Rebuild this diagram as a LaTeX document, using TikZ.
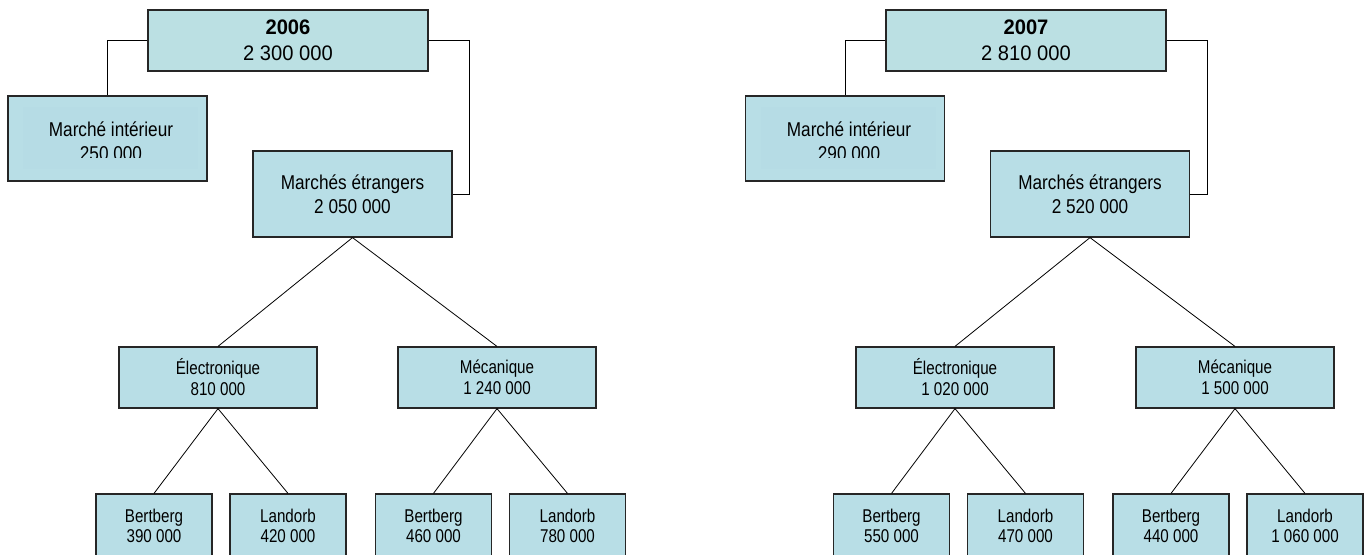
\documentclass[tikz,border=0pt]{standalone}
\usepackage{fontspec}
\setmainfont{Liberation Sans}
\newfontfamily\topf{Liberation Sans}[FakeStretch=0.96]
\newfontfamily\midf{Liberation Sans}[FakeStretch=0.86]
\newfontfamily\lowf{Liberation Sans}[FakeStretch=0.82]
\definecolor{boxfill}{HTML}{B8DEE6}
\definecolor{topfill}{HTML}{BBE0E3}
\definecolor{innerfill}{HTML}{B6DCE5}
\begin{document}
\begin{tikzpicture}[x=1pt,y=-1pt,
  box/.style={draw=black!85, line width=1.2pt, fill=boxfill, inner sep=0pt, align=center},
  topbox/.style={box, fill=topfill, minimum width=280pt, minimum height=61pt, font=\topf\fontsize{21}{26}\selectfont},
  midbox/.style={box, minimum width=199pt, minimum height=86pt, font=\midf\fontsize{20}{23.5}\selectfont},
  catbox/.style={box, minimum width=198pt, minimum height=61pt, font=\lowf\fontsize{18.5}{21}\selectfont},
  leafbox/.style={box, minimum width=116pt, minimum height=63pt, font=\lowf\fontsize{18.5}{20}\selectfont},
  txt/.style={inner sep=0pt, align=center, font=\midf\fontsize{20}{24}\selectfont},
  conn/.style={draw=black, line width=0.8pt}]
\useasboundingbox (0,0) rectangle (1370,554);
\clip (0,0) rectangle (1370,554);
\fill[white] (0,0) rectangle (1370,554);

% ---------------- 2006 ----------------
\node[topbox] (top06) at (288,40.5) {\textbf{2006}\\2 300 000};
\node[midbox, minimum height=85pt] (mi06) at (107.5,138.5) {};
\fill[innerfill] (23,107) rectangle (198,169);
\node[txt] (mi06t) at (111,141.7) {Marché intérieur\\250 000};
\fill[innerfill] (23,158) rectangle (198,169);
\node[midbox] (me06) at (352.5,194) {Marchés étrangers\\2 050 000};
\node[catbox] (el06) at (218,377.5) {Électronique\\810 000};
\node[catbox] (mc06) at (497,377.5) {Mécanique\\1 240 000};
\node[leafbox] (b06a) at (154,525.5) {Bertberg\\390 000};
\node[leafbox] (l06a) at (288,525.5) {Landorb\\420 000};
\node[leafbox] (b06b) at (433.5,525.5) {Bertberg\\460 000};
\node[leafbox] (l06b) at (567.5,525.5) {Landorb\\780 000};

\draw[conn] (top06.west) -| (mi06.north);
\draw[conn] (top06.east) -- ++(41,0) |- (me06.east);
\draw[conn] (me06.south) -- (el06.north);
\draw[conn] (me06.south) -- (mc06.north);
\draw[conn] (el06.south) -- (b06a.north);
\draw[conn] (el06.south) -- (l06a.north);
\draw[conn] (mc06.south) -- (b06b.north);
\draw[conn] (mc06.south) -- (l06b.north);

% ---------------- 2007 ----------------
\node[topbox] (top07) at (1026,40.5) {\textbf{2007}\\2 810 000};
\node[midbox, minimum height=85pt] (mi07) at (845,138.5) {};
\fill[innerfill] (761,107) rectangle (936,169);
\node[txt] (mi07t) at (849,141.7) {Marché intérieur\\290 000};
\fill[innerfill] (761,158) rectangle (936,169);
\node[midbox] (me07) at (1090,194) {Marchés étrangers\\2 520 000};
\node[catbox] (el07) at (955,377.5) {Électronique\\1 020 000};
\node[catbox] (mc07) at (1235,377.5) {Mécanique\\1 500 000};
\node[leafbox] (b07a) at (891.5,525.5) {Bertberg\\550 000};
\node[leafbox] (l07a) at (1025.5,525.5) {Landorb\\470 000};
\node[leafbox] (b07b) at (1171,525.5) {Bertberg\\440 000};
\node[leafbox] (l07b) at (1305,525.5) {Landorb\\1 060 000};

\draw[conn] (top07.west) -| (mi07.north);
\draw[conn] (top07.east) -- ++(41,0) |- (me07.east);
\draw[conn] (me07.south) -- (el07.north);
\draw[conn] (me07.south) -- (mc07.north);
\draw[conn] (el07.south) -- (b07a.north);
\draw[conn] (el07.south) -- (l07a.north);
\draw[conn] (mc07.south) -- (b07b.north);
\draw[conn] (mc07.south) -- (l07b.north);
\end{tikzpicture}
\end{document}
